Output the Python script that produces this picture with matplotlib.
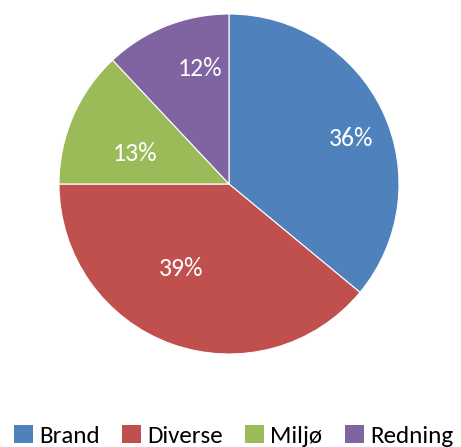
import matplotlib
matplotlib.use("Agg")
import numpy as np
import matplotlib.pyplot as plt
from matplotlib.patches import Patch

categories = ["Brand", "Diverse", "Miljø", "Redning"]
values = [36, 39, 13, 12]
colors = ["#4F81BD", "#C0504D", "#9BBB59", "#8064A2"]

# label placement styling (radial distance, angle tweak in degrees)
label_dist = [0.765, 0.569, 0.582, 0.703]
label_dang = [-4.9, -9.9, 5.2, -7.5]

plt.rcParams['font.family'] = ['Carlito', 'Lato', 'DejaVu Sans']

fig = plt.figure(figsize=(4.61, 4.47), dpi=100)
W, H = 461, 447
cx, cy, r = 229, 184, 170
ax = fig.add_axes([(cx - r) / W, 1 - (cy + r) / H, 2 * r / W, 2 * r / H])
wedges, texts, autotexts = ax.pie(
    values, colors=colors, startangle=90, counterclock=False,
    autopct=lambda p: f"{p:.0f}%", pctdistance=0.67,
    wedgeprops=dict(edgecolor="white", linewidth=0.8),
    textprops=dict(color="white", fontsize=18.5),
)
for w, t, d, da in zip(wedges, autotexts, label_dist, label_dang):
    mid = np.deg2rad((w.theta1 + w.theta2) / 2 + da)
    t.set_position((d * np.cos(mid), d * np.sin(mid)))
ax.set_xlim(-1, 1)
ax.set_ylim(-1, 1)
ax.set_aspect("equal")

handles = [Patch(facecolor=c, edgecolor="none") for c in colors]
fig.legend(handles, categories, loc="center", bbox_to_anchor=(233.5 / W, 1 - 436 / H),
           ncol=4, frameon=False, fontsize=18, handlelength=0.75, handleheight=0.75,
           handletextpad=0.25, columnspacing=0.9, borderpad=0, borderaxespad=0)
fig.savefig("out.png", dpi=100)
